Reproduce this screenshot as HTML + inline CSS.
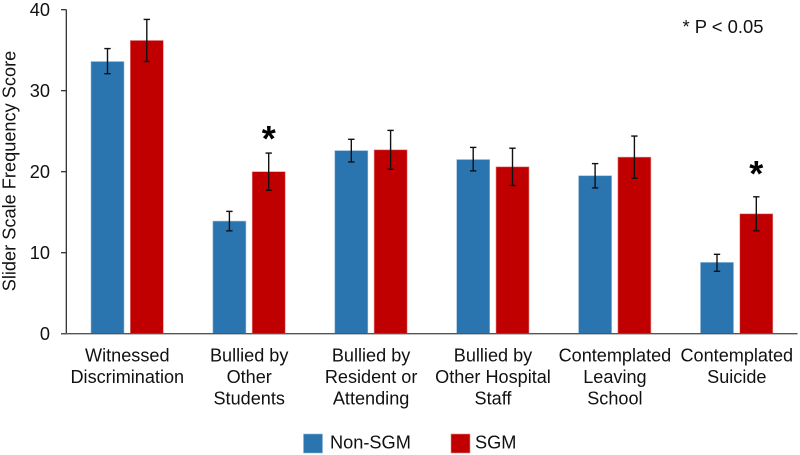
<!DOCTYPE html>
<html>
<head>
<meta charset="utf-8">
<title>Slider Scale Frequency Score</title>
<style>
html,body{margin:0;padding:0;background:#fff;}
svg{display:block;font-family:"Liberation Sans",sans-serif;fill:#111;}
</style>
</head>
<body>
<svg id="chart" width="800" height="455" viewBox="0 0 800 455" xmlns="http://www.w3.org/2000/svg">
  <rect x="0" y="0" width="800" height="455" fill="#fff"/>
  <text transform="translate(15.5,171) rotate(-90)" text-anchor="middle" font-size="18.2">Slider Scale Frequency Score</text>
  <text x="682.5" y="33" font-size="18.4">* P &lt; 0.05</text>
  <g>
    <g>
      <rect x="303.5" y="434" width="19" height="19" fill="#2a75b0" stroke="#8fb8d8" stroke-width="0.6"/>
      <text x="330" y="448.5" font-size="18.2">Non-SGM</text>
    </g>
    <g>
      <rect x="451" y="434" width="19" height="19" fill="#c00000" stroke="#e58a8a" stroke-width="0.6"/>
      <text x="475" y="448.5" font-size="18.2">SGM</text>
    </g>
  </g>
  <g id="marks"></g>
  <g id="axes"></g>
</svg>
<script>
const categories = [
  ["Witnessed", "Discrimination"],
  ["Bullied by", "Other", "Students"],
  ["Bullied by", "Resident or", "Attending"],
  ["Bullied by", "Other Hospital", "Staff"],
  ["Contemplated", "Leaving", "School"],
  ["Contemplated", "Suicide"]
];
const nonSgmValues = [33.6, 13.9, 22.6, 21.5, 19.5, 8.8];
const nonSgmHigh = [35.2, 15.1, 24.0, 23.0, 21.0, 9.8];
const nonSgmLow = [32.1, 12.7, 21.2, 20.1, 18.0, 7.7];
const sgmValues = [36.2, 20.0, 22.7, 20.6, 21.8, 14.8];
const sgmHigh = [38.8, 22.3, 25.1, 22.9, 24.4, 16.9];
const sgmLow = [33.6, 17.7, 20.3, 18.3, 19.2, 12.7];
const significanceLevels = [null, 24.4, null, null, null, 20.1];
const yTicks = [0, 10, 20, 30, 40];

const NS = "http://www.w3.org/2000/svg";
const marks = document.getElementById("marks");
const axes = document.getElementById("axes");

function yScale(v) { return 333.7 - v * 8.1; }
function groupLeft(i) { return 91 + i * 121.9; }
function blueX(i) { return groupLeft(i); }
function redX(i) { return groupLeft(i) + 39.3; }
const BAR_W = 33;

function make(tag, attrs, parent) {
  const el = document.createElementNS(NS, tag);
  for (const k in attrs) el.setAttribute(k, attrs[k]);
  parent.appendChild(el);
  return el;
}

function drawBar(parent, x, value, high, low, fill, edge, label) {
  const bar = make("rect", {
    x: x, y: yScale(value), width: BAR_W, height: yScale(0) - yScale(value),
    fill: fill, stroke: edge, "stroke-width": 0.6
  }, parent);
  
  

  const cx = x + BAR_W / 2;
  const err = make("g", { stroke: "#111", "stroke-width": 1.4, fill: "none" }, parent);
  
  
  make("line", { x1: cx, x2: cx, y1: yScale(high), y2: yScale(low) }, err);
  make("line", { x1: cx - 3.2, x2: cx + 3.2, y1: yScale(high), y2: yScale(high) }, err);
  make("line", { x1: cx - 3.2, x2: cx + 3.2, y1: yScale(low), y2: yScale(low) }, err);
}

categories.forEach(function (lines, i) {
  const group = make("g", {}, marks);
  
  
  drawBar(group, blueX(i), nonSgmValues[i], nonSgmHigh[i], nonSgmLow[i], "#2a75b0", "#8fb8d8", "non-sgm-" + (i + 1));
  drawBar(group, redX(i), sgmValues[i], sgmHigh[i], sgmLow[i], "#c00000", "#e58a8a", "sgm-" + (i + 1));

  if (significanceLevels[i] !== null) {
    const star = make("text", {
      x: redX(i) + BAR_W / 2,
      y: yScale(significanceLevels[i]) + 15,
      "text-anchor": "middle",
      "font-size": 36,
      "font-weight": "bold",
      fill: "#000"
    }, group);
    
    
    star.textContent = "*";
  }

  const label = make("text", {
    x: groupLeft(i) + 36.3,
    "text-anchor": "middle",
    "font-size": 18.1
  }, axes);
  
  
  lines.forEach(function (line, j) {
    const t = make("tspan", { x: groupLeft(i) + 36.3, y: 361.7 + j * 21.3 }, label);
    t.textContent = line;
  });
});

yTicks.forEach(function (v) {
  const tick = make("line", {
    x1: 61, x2: 66.5, y1: yScale(v), y2: yScale(v),
    stroke: "#222", "stroke-width": 1.2
  }, axes);
  
  
  const lab = make("text", {
    x: 50, y: yScale(v) + 6.3, "text-anchor": "end", "font-size": 18.2
  }, axes);
  
  
  lab.textContent = v;
});

const yAxis = make("line", {
  x1: 66.3, x2: 66.3, y1: yScale(yTicks[yTicks.length - 1]), y2: yScale(0),
  stroke: "#222", "stroke-width": 1.2
}, axes);



const xAxis = make("line", {
  x1: 61, x2: 797.5, y1: yScale(0), y2: yScale(0),
  stroke: "#555", "stroke-width": 1.3
}, axes);


</script>
</body>
</html>
